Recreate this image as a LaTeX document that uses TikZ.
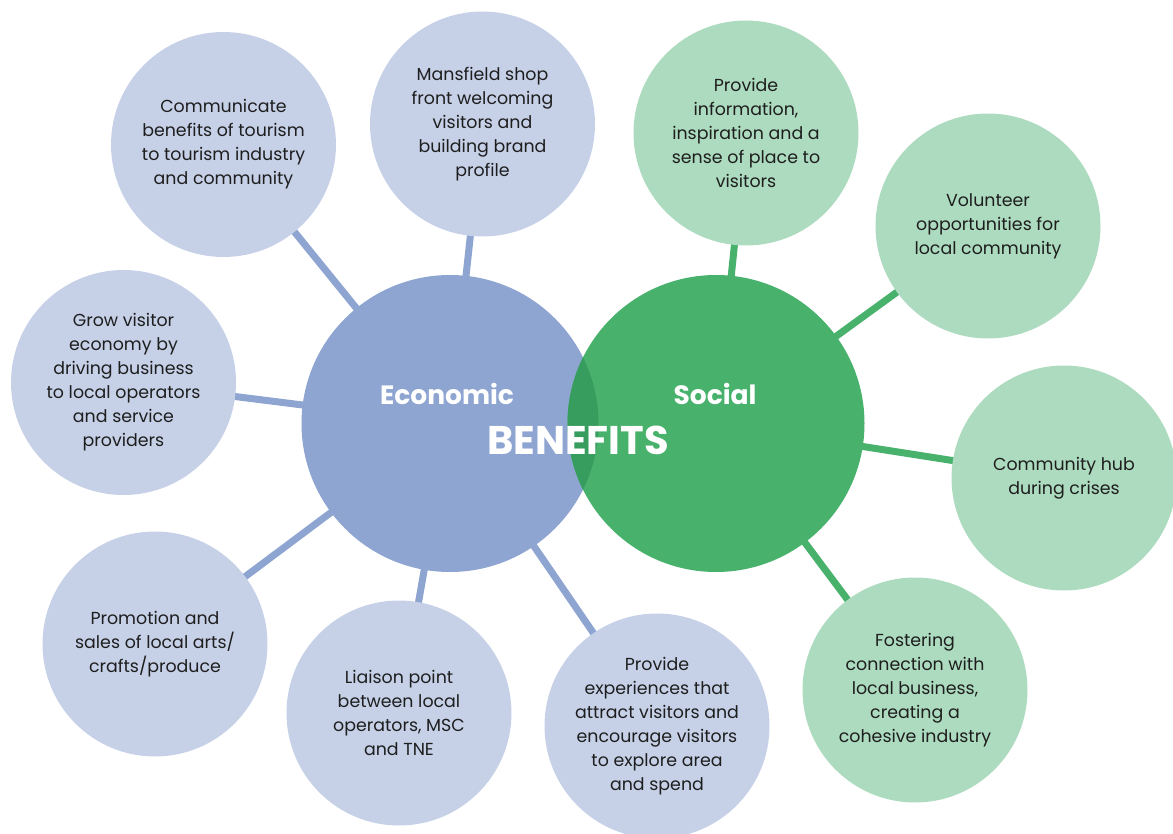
\documentclass[tikz,border=0pt]{standalone}
\usepackage{fontspec}
\setmainfont{Poppins}
\usetikzlibrary{backgrounds}
\definecolor{ecoLight}{HTML}{C6D1E8}
\definecolor{ecoMain}{HTML}{8EA5D1}
\definecolor{socLight}{HTML}{ADDBBF}
\definecolor{socMain}{HTML}{48B16C}
\definecolor{socOverlap}{HTML}{379D5F}
\definecolor{bodyText}{HTML}{1E1E1E}
\tikzset{
  leaf/.style={circle, minimum size=225pt, inner sep=0pt, align=center,
    text=bodyText, font=\fontsize{17.4}{24}\selectfont},
  ecoleaf/.style={leaf, fill=ecoLight},
  socleaf/.style={leaf, fill=socLight},
  hub/.style={circle, minimum size=297pt, inner sep=0pt},
  ecohub/.style={hub, fill=ecoMain},
  sochub/.style={hub, fill=socMain},
  hubtitle/.style={text=white, font=\bfseries\fontsize{26.5}{30}\selectfont},
  ecolink/.style={draw=ecoMain, line width=7pt},
  soclink/.style={draw=socMain, line width=7pt}
}
\begin{document}
\begin{tikzpicture}[x=1pt,y=-1pt]
\useasboundingbox (0,0) rectangle (1173,834);

% central circles
\node[ecohub] (eco) at (450,423.5) {};
\node[sochub] (soc) at (716,423.5) {};
\begin{scope}
  \clip (eco.center) circle[radius=148.5pt];
  \fill[socOverlap] (soc.center) circle[radius=148.5pt];
\end{scope}
\node[hubtitle] (ecoT) at (447,394) {Economic};
\node[hubtitle] (socT) at (715,394) {Social};
\node[text=white, font=\bfseries\fontsize{40}{42}\selectfont] (title) at (578,440) {BENEFITS};

% economic benefits
\node[ecoleaf] (e1) at (223.5,144.5) {Communicate\\benefits of tourism\\to tourism industry\\and community};
\node[ecoleaf] (e2) at (482.5,124) {Mansfield shop\\front welcoming\\visitors and\\building brand\\profile};
\node[ecoleaf] (e3) at (123.5,382.5) {Grow visitor\\economy by\\driving business\\to local operators\\and service\\providers};
\node[ecoleaf] (e4) at (155,644) {Promotion and\\sales of local arts/\\crafts/produce};
\node[ecoleaf] (e5) at (399,713) {Liaison point\\between local\\operators, MSC\\and TNE};
\node[ecoleaf] (e6) at (657,726) {Provide\\experiences that\\attract visitors and\\encourage visitors\\to explore area\\and spend};

% social benefits
\node[socleaf] (s1) at (746,133) {Provide\\information,\\inspiration and a\\sense of place to\\visitors};
\node[socleaf] (s2) at (988,226) {Volunteer\\opportunities for\\local community};
\node[socleaf] (s3) at (1064,478) {Community hub\\during crises};
\node[socleaf] (s4) at (915,690) {Fostering\\connection with\\local business,\\creating a\\cohesive industry};

% spokes
\begin{scope}[on background layer]
  \foreach \n in {e1,e2,e3,e4,e5,e6} \draw[ecolink] (eco.center) -- (\n.center);
  \foreach \n in {s1,s2,s3,s4} \draw[soclink] (soc.center) -- (\n.center);
\end{scope}
\end{tikzpicture}
\end{document}
